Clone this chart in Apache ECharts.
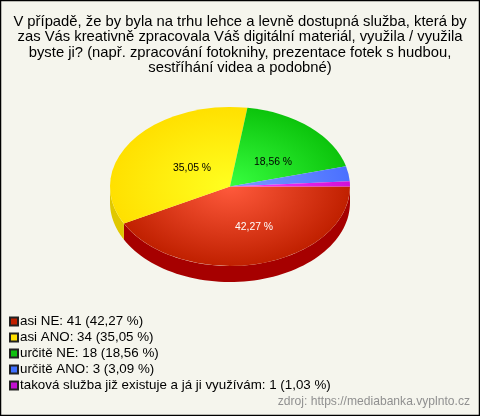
<!DOCTYPE html>
<html><head><meta charset="utf-8">
<style>html,body{margin:0;padding:0;background:#f5f5ed}#c{width:480px;height:416px}</style>
<script src="https://cdn.jsdelivr.net/npm/echarts@6/dist/echarts.min.js"></script>
</head><body><div id="c"></div>
<script>
const titleLines = [
  'V případě, že by byla na trhu lehce a levně dostupná služba, která by',
  'zas Vás kreativně zpracovala Váš digitální materiál, využila / využila',
  'byste ji? (např. zpracování fotoknihy, prezentace fotek s hudbou,',
  'sestříhání videa a podobné)'
];
const categories = ['asi NE','asi ANO','určitě NE','určitě ANO','taková služba již existuje a já ji využívám'];
const counts = [41,34,18,3,1];
const percents = [42.27,35.05,18.56,3.09,1.03];
const sourceText = 'zdroj: https://mediabanka.vyplnto.cz';

const legendColors = ['#c02000','#ffe000','#10c010','#4070ff','#c010d0'];
const innerColors  = ['#ff5a3c','#ffff20','#38ff40','#7c9cff','#ff40ff'];
const outerColors  = ['#c02000','#ffe000','#0cc40c','#4a70ff','#d010d8'];
const sideColors   = ['#a60000','#e0c800','#0a9a0a','#3050c0','#a010a8'];
const labelColors  = ['#ffffff','#000000','#000000',null,null];
const labelOffsets = [[24,41],[-38,-18],[43,-24],null,null];

const CX=230, CY=186.5, RX=120, RY=79.5, DEPTH=16;
const fmt = v => v.toFixed(2).replace('.',',');
const total = percents.reduce((a,b)=>a+b,0);
let acc = 0;
const slices = percents.map(p => { const s=acc/total*Math.PI*2; acc+=p; return [s, acc/total*Math.PI*2]; });

function sidePoints(a0,a1){
  const s=Math.max(a0,0), e=Math.min(a1,Math.PI);
  if(e<=s) return null;
  const top=[],bot=[];
  for(let i=0;i<=64;i++){
    const t=s+(e-s)*i/64, x=CX+RX*Math.cos(t), y=CY+RY*Math.sin(t);
    top.push([x,y]); bot.unshift([x,y+DEPTH]);
  }
  return top.concat(bot);
}

const series = categories.map((name,i)=>({
  type:'custom', name, coordinateSystem:'none', silent:true,
  itemStyle:{color:legendColors[i],borderColor:'#222',borderWidth:1},
  data:[[slices[i][0],slices[i][1]]],
  z:2,
  renderItem(params,api){
    const a0=api.value(0), a1=api.value(1), children=[];
    const pts=sidePoints(a0,a1);
    if(pts) children.push({type:'polygon',shape:{points:pts},style:{fill:sideColors[i]}});
    children.push({type:'sector',x:CX,y:CY,scaleY:RY/RX,
      shape:{cx:0,cy:0,r0:0,r:RX,startAngle:a0,endAngle:a1,clockwise:true},
      style:{fill:{type:'radial',x:0,y:0,r:RX,global:true,
        colorStops:[{offset:0,color:innerColors[i]},{offset:1,color:outerColors[i]}]}}});
    return {type:'group',children};
  }
}));
series.push({
  type:'custom', coordinateSystem:'none', silent:true, z:5,
  data:percents.map((p,i)=>[i,p]),
  renderItem(params,api){
    const i=api.value(0), off=labelOffsets[i];
    if(!off) return {type:'group',children:[]};
    return {type:'text',x:CX+off[0],y:CY+off[1],
      style:{text:fmt(api.value(1))+' %',fill:labelColors[i],font:'10.4px "Liberation Sans"',align:'center',verticalAlign:'middle'}};
  }
});

const chart = echarts.init(document.getElementById('c'),null,{renderer:'canvas'});
chart.setOption({
  animation:false,
  backgroundColor:'#f5f5ed',
  title:{text:titleLines.join('\n'),left:235,textAlign:'center',top:9,
    textStyle:{fontFamily:'Liberation Sans',fontSize:14.8,fontWeight:'normal',color:'#000',lineHeight:15.5}},
  legend:{orient:'vertical',left:4,top:310,itemWidth:8,itemHeight:8,itemGap:3,icon:'rect',selectedMode:false,
    data:categories,
    formatter:n=>{const i=categories.indexOf(n);return n+': '+counts[i]+' ('+fmt(percents[i])+' %)';},
    textStyle:{fontFamily:'Liberation Sans',fontSize:13.35,color:'#000',lineHeight:12,padding:[0,0,0,-3]}},
  graphic:[
    {type:'rect',shape:{x:0.5,y:0.5,width:479,height:415},style:{fill:'none',stroke:'#000',lineWidth:1.5},z:10},
    {type:'text',right:10,top:396,style:{text:sourceText,fill:'#909090',font:'12.1px "Liberation Sans"'}}
  ],
  series
});
</script></body></html>
